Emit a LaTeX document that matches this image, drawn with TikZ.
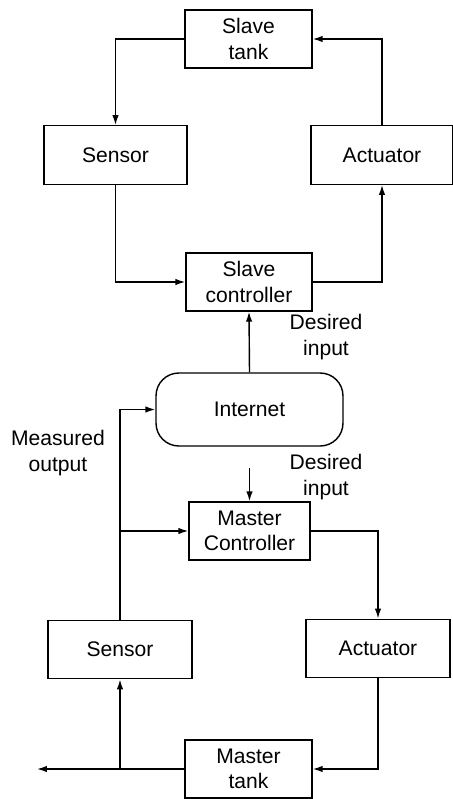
\documentclass[tikz,border=0pt]{standalone}
\usepackage{fontspec}
\setmainfont{Liberation Sans}
\usepackage{tikz}
\usetikzlibrary{positioning,arrows.meta,calc}

\begin{document}
\begin{tikzpicture}[x=0.02cm,y=-0.02cm,font=\fontsize{12}{14.5}\selectfont,
  blk/.style={draw,line width=0.8pt,minimum width=2.54cm,minimum height=1.16cm,align=center,inner sep=1pt},
  wide/.style={blk,minimum width=2.86cm,minimum height=1.17cm},
  arr/.style={-{Latex[length=2mm,width=1.3mm]},line width=0.8pt},
  lbl/.style={align=center,inner sep=0pt}]
  \useasboundingbox (0,0) rectangle (453,799);
  % slave side
  \node[blk] (stank) at (248.5,39) {Slave\\tank};
  \node[wide] (sensT) at (115.5,155) {Sensor};
  \node[wide,minimum width=2.84cm] (actT) at (382,155) {Actuator};
  \node[blk,minimum width=2.52cm] (sctrl) at (249,282) {Slave\\controller};
  \node[blk,rounded corners=13,minimum width=3.74cm,minimum height=1.46cm] (inet) at (249.5,409.5) {Internet};
  % master side
  \node[blk,minimum width=2.42cm] (mctrl) at (249.5,531) {Master\\Controller};
  \node[wide,minimum width=2.88cm] (sensB) at (120,649.5) {Sensor};
  \node[wide,minimum width=2.88cm] (actB) at (378,648.5) {Actuator};
  \node[blk] (mtank) at (248.5,769) {Master\\tank};
  \node[lbl] (din1) at (326,337) {Desired\\input};
  \node[lbl] (din2) at (326,477) {Desired\\input};
  \node[lbl] (mout) at (58,453) {Measured\\output};
  \coordinate (dtop) at (249.5,468);
  \coordinate (outp) at (37,769);
  \draw[arr] (stank.west) -| (sensT.north);
  \draw[arr] (sensT.south) |- (sctrl.west);
  \draw[arr] (sctrl.east) -| (actT.south);
  \draw[arr] (actT.north) |- (stank.east);
  \draw[arr] (inet.north) -- (sctrl.south);
  \draw[arr] (dtop) -- (mctrl.north);
  \draw[arr] (mctrl.east) -| (actB.north);
  \draw[arr] (actB.south) |- (mtank.east);
  \draw[arr] (mtank.west) -- (outp);
  \draw[arr] (sensB.south |- mtank.west) -- (sensB.south);
  \draw[arr] (sensB.north) |- (inet.west);
  \draw[arr] (sensB.north |- mctrl.west) -- (mctrl.west);
\end{tikzpicture}
\end{document}
